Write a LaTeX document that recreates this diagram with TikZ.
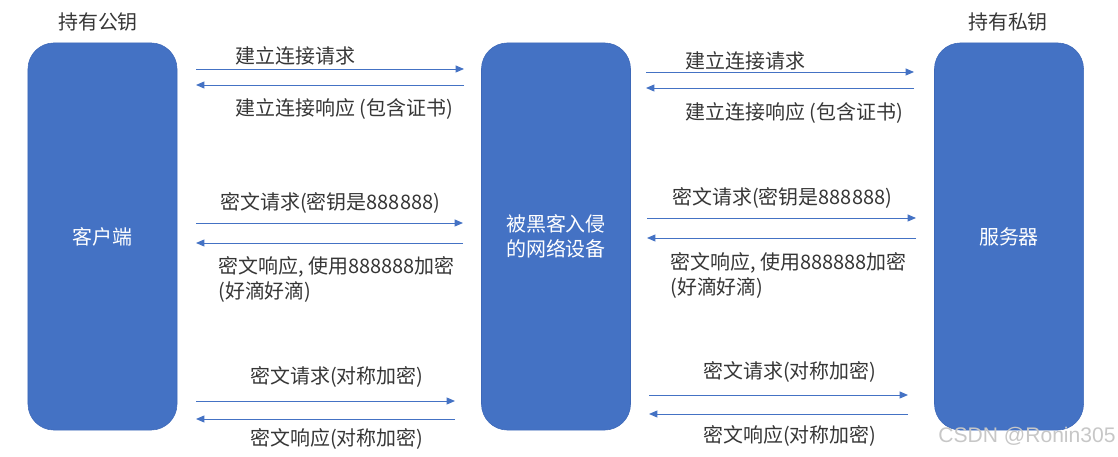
\documentclass[tikz,border=0pt]{standalone}
\usepackage{fontspec}
\setmainfont{Noto Sans CJK SC}
\newfontfamily\marca{Liberation Sans}
\usepackage{tikz}
\usetikzlibrary{positioning,calc}
\usetikzlibrary{arrows.meta}
\definecolor{blu}{HTML}{4472C4}
\definecolor{bordo}{HTML}{3D68B8}
\definecolor{testo}{HTML}{363636}
\tikzstyle{blocco} = [rectangle, 
rounded corners=0.65cm, minimum width=3.725cm, minimum height=9.675cm, text centered, align=center, fill=blu, draw=bordo, text=white]
\tikzstyle{scritta} = [inner sep=0pt, anchor=west, align=left, text=testo]
\tikzstyle{arrow} = [draw=blu, line width=0.7pt, -{Triangle[length=6pt,width=5pt]}]

\begin{document}
\begin{tikzpicture}[x=0.025cm, y=-0.025cm, every node/.style={font=\fontsize{14.2}{17.8}\selectfont}]
				\useasboundingbox (0,0) rectangle (1118,457);
				\node (client) at (102.5,236.5) [blocco] {客户端};
				\node (hacker) at (556,236.5) [blocco] {被黑客入侵\\的网络设备};
				\node (server) at (1009,236.5) [blocco] {服务器};
				\node (pub) at (98,22) [scritta, anchor=center] {持有公钥};
				\node (priv) at (1008,22) [scritta, anchor=center] {持有私钥};
				% client <-> hacker
				\coordinate (c1) at (196,69); \coordinate (h1) at (464,69);
				\coordinate (c2) at (196,85); \coordinate (h2) at (464,85);
				\coordinate (c3) at (196,223); \coordinate (h3) at (463,223);
				\coordinate (c4) at (196,243); \coordinate (h4) at (463,243);
				\coordinate (c5) at (196,401); \coordinate (h5) at (455,401);
				\coordinate (c6) at (196,419); \coordinate (h6) at (455,419);
				\draw[arrow] (c1) -- (h1);
				\draw[arrow] (h2) -- (c2);
				\draw[arrow] (c3) -- (h3);
				\draw[arrow] (h4) -- (c4);
				\draw[arrow] (c5) -- (h5);
				\draw[arrow] (h6) -- (c6);
				\node (lreq1) at (235,56) [scritta] {建立连接请求};
				\node (lres1) at (235,109) [scritta] {建立连接响应 (包含证书)};
				\node (lreq2) at (220,203) [scritta] {密文请求(密钥是888888)};
				\node (lres2) at (218,279.5) [scritta] {密文响应, 使用888888加密\\(好滴好滴)};
				\node (lreq3) at (250,377) [scritta] {密文请求(对称加密)};
				\node (lres3) at (250,439) [scritta] {密文响应(对称加密)};
				% hacker <-> server
				\coordinate (k1) at (646,72); \coordinate (s1) at (914,72);
				\coordinate (k2) at (646,88); \coordinate (s2) at (914,88);
				\coordinate (k3) at (647,218); \coordinate (s3) at (916,218);
				\coordinate (k4) at (647,238); \coordinate (s4) at (916,238);
				\coordinate (k5) at (649,395); \coordinate (s5) at (908,395);
				\coordinate (k6) at (649,414); \coordinate (s6) at (908,414);
				\draw[arrow] (k1) -- (s1);
				\draw[arrow] (s2) -- (k2);
				\draw[arrow] (k3) -- (s3);
				\draw[arrow] (s4) -- (k4);
				\draw[arrow] (k5) -- (s5);
				\draw[arrow] (s6) -- (k6);
				\node (rreq1) at (685,61) [scritta] {建立连接请求};
				\node (rres1) at (685,113) [scritta] {建立连接响应 (包含证书)};
				\node (rreq2) at (672,198) [scritta] {密文请求(密钥是888888)};
				\node (rres2) at (670,275.5) [scritta] {密文响应, 使用888888加密\\(好滴好滴)};
				\node (rreq3) at (703,372) [scritta] {密文请求(对称加密)};
				\node (rres3) at (703,436) [scritta] {密文响应(对称加密)};
				\node (wm) at (938,436) [scritta, text=black!22, font=\marca\fontsize{15}{18}\selectfont] {CSDN @Ronin305};
				\end{tikzpicture}
\end{document}
